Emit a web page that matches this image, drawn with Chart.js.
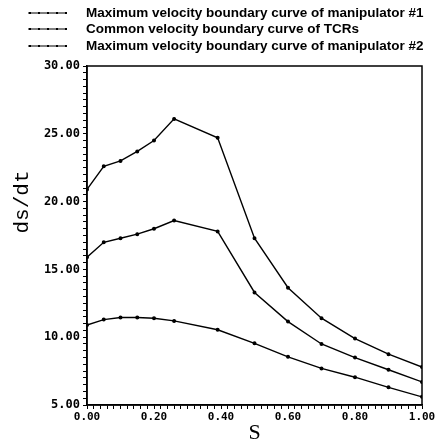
<!DOCTYPE html>
<html>
<head>
<meta charset="utf-8">
<script src="https://cdn.jsdelivr.net/npm/chart.js@4.4.1/dist/chart.umd.min.js"></script>
<style>
  html, body { margin: 0; padding: 0; background: #fff; }
  #wrap { width: 435px; height: 446px; }
</style>
</head>
<body>
<div id="wrap"><canvas id="velocityChart"></canvas></div>
<script>
// path parameter s
const sValues = [0, 0.05, 0.1, 0.15, 0.2, 0.26, 0.39, 0.5, 0.6, 0.7, 0.8, 0.9, 1.0];

// ds/dt values
const manip1Max = [20.9, 22.6, 23.0, 23.7, 24.5, 26.1, 24.7, 17.3, 13.65, 11.4, 9.9, 8.75, 7.8];
const tcrCommon = [15.9, 17.0, 17.3, 17.6, 18.0, 18.6, 17.8, 13.3, 11.15, 9.5, 8.5, 7.6, 6.7];
const manip2Max = [10.9, 11.3, 11.45, 11.45, 11.4, 11.2, 10.55, 9.55, 8.55, 7.7, 7.05, 6.3, 5.6];

const seriesLabels = [
  "Maximum velocity boundary curve of manipulator #1",
  "Common velocity boundary curve of TCRs",
  "Maximum velocity boundary curve of manipulator #2",
];

const toPoints = (ys) => ys.map((y, i) => ({ x: sValues[i], y: y }));

function makeSet(label, ys) {
  return {
    label: label,
    data: toPoints(ys),
    borderColor: "#000",
    backgroundColor: "#000",
    borderWidth: 1.4,
    pointRadius: 1.3,
    pointHoverRadius: 1.3,
    tension: 0,
  };
}

// frame around the plot + hand drawn legend and y title
const framePlugin = {
  id: "frame",
  afterDraw(chart) {
    const { ctx, chartArea } = chart;
    ctx.save();
    ctx.strokeStyle = "#000";
    ctx.lineWidth = 1.5;
    ctx.strokeRect(chartArea.left, chartArea.top, chartArea.right - chartArea.left, chartArea.bottom - chartArea.top);

    // legend
    const rows = [13, 29, 46];
    ctx.font = "bold 13.5px 'Liberation Sans', Arial, sans-serif";
    ctx.textBaseline = "middle";
    ctx.fillStyle = "#000";
    chart.data.datasets.forEach((ds, i) => {
      const y = rows[i];
      ctx.beginPath();
      ctx.moveTo(28, y);
      ctx.lineTo(67, y);
      ctx.lineWidth = 1;
      ctx.stroke();
      for (let k = 0; k < 5; k++) {
        ctx.fillRect(29 + k * 9, y - 1, 2, 2);
      }
      ctx.fillText(ds.label, 86, y);
    });

    // y axis title
    ctx.translate(22, 202);
    ctx.rotate(-Math.PI / 2);
    ctx.textAlign = "center";
    ctx.font = "21px 'Liberation Mono', 'Courier New', monospace";
    ctx.fillText("ds/dt", 0, 0);
    ctx.restore();
  },
};

const tickFont = { family: "'DejaVu Sans Mono', monospace", size: 12, weight: "bold" };

const velocityConfig = {
  type: "line",
  data: {
    datasets: [
      makeSet(seriesLabels[0], manip1Max),
      makeSet(seriesLabels[1], tcrCommon),
      makeSet(seriesLabels[2], manip2Max),
    ],
  },
  options: {
    responsive: true,
    maintainAspectRatio: false,
    animation: false,
    layout: { padding: { top: 66, left: 9, right: 0, bottom: 0 } },
    plugins: {
      legend: { display: false },
      tooltip: { enabled: false },
    },
    scales: {
      x: {
        type: "linear",
        min: 0,
        max: 1,
        afterFit(scale) {
          scale.height = 41;
          scale.paddingRight = 13;
        },
        grid: { drawOnChartArea: false, color: "#000", tickLength: 4 },
        border: { color: "#000", width: 1.5 },
        ticks: {
          stepSize: 0.02,
          autoSkip: false,
          maxRotation: 0,
          color: "#000",
          font: { family: "'DejaVu Sans Mono', monospace", size: 11, weight: "bold" },
          padding: 2,
          callback: (v) => (Math.round(v * 100) % 20 === 0 ? v.toFixed(2) : ""),
        },
        title: {
          display: true,
          text: "S",
          color: "#000",
          font: { family: "'Liberation Serif', 'Times New Roman', serif", size: 22 },
          padding: 0,
        },
      },
      y: {
        min: 5,
        max: 30,
        afterFit(scale) { scale.width = 78; },
        grid: { drawOnChartArea: false, color: "#000", tickLength: 4 },
        border: { color: "#000", width: 1.5 },
        ticks: {
          stepSize: 0.5,
          autoSkip: false,
          color: "#000",
          font: tickFont,
          padding: 3,
          callback: (v) => (Math.round(v * 10) % 50 === 0 ? v.toFixed(2) : ""),
        },
      },
    },
  },
  plugins: [framePlugin],
};

const velocityChart = new Chart(document.getElementById("velocityChart"), velocityConfig);
</script>
</body>
</html>
